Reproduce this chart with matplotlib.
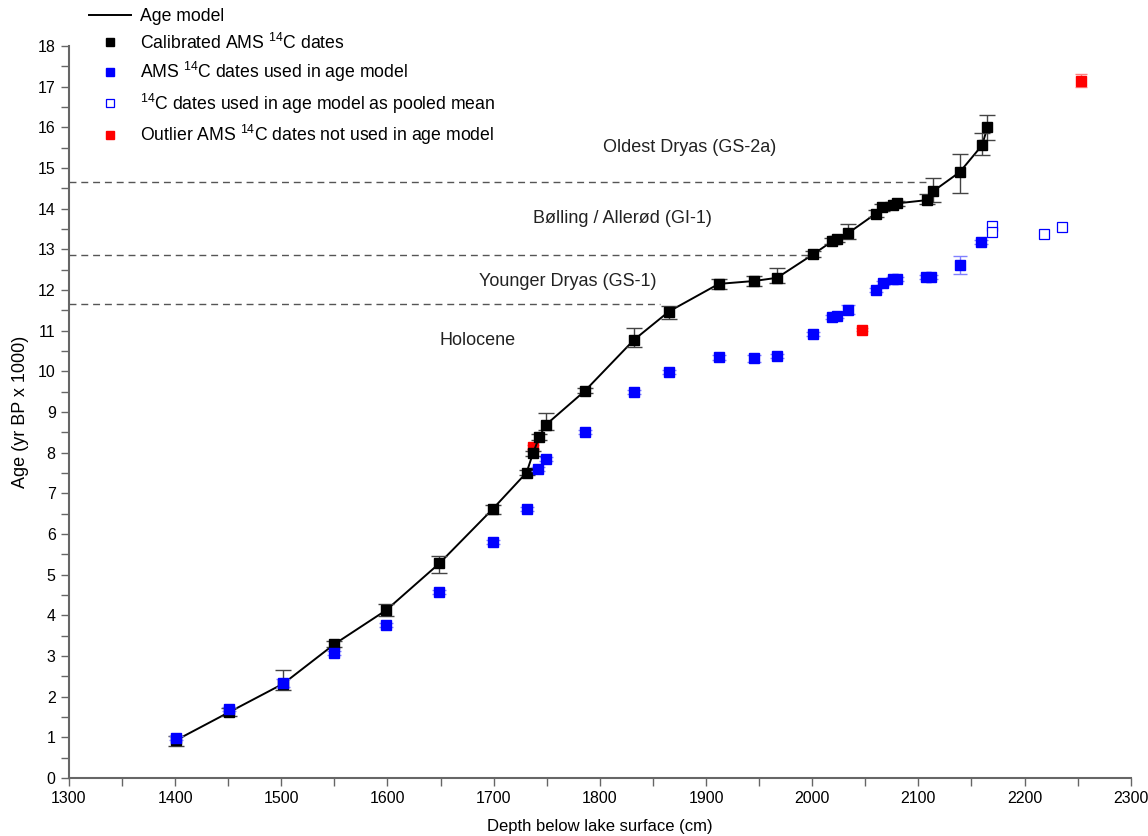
import numpy as np
import matplotlib
matplotlib.use('Agg')
import matplotlib.pyplot as plt
from matplotlib.lines import Line2D

plt.rcParams['font.family'] = ['Liberation Sans', 'DejaVu Sans']
plt.rcParams['mathtext.default'] = 'regular'

# calibrated AMS 14C dates (age model nodes), depth in cm, age in kyr BP
cal_depth = [1401, 1451, 1502, 1550, 1599, 1649, 1699, 1731, 1737, 1743, 1749, 1786,
             1832, 1865, 1912, 1945, 1967, 2001, 2019, 2023, 2034, 2060, 2066, 2076,
             2080, 2108, 2114, 2139, 2160, 2165]
cal_age = [0.93, 1.62, 2.32, 3.29, 4.13, 5.28, 6.61, 7.51, 7.98, 8.39, 8.68, 9.52,
           10.77, 11.47, 12.15, 12.22, 12.30, 12.88, 13.20, 13.25, 13.40, 13.88, 14.03, 14.10,
           14.13, 14.21, 14.43, 14.90, 15.56, 16.00]
cal_err_lo = [0.15, 0.10, 0.16, 0.08, 0.15, 0.25, 0.13, 0.07, 0.07, 0.07, 0.12, 0.06,
              0.18, 0.18, 0.12, 0.12, 0.14, 0.07, 0.08, 0.08, 0.15, 0.08, 0.08, 0.06,
              0.06, 0.10, 0.27, 0.51, 0.23, 0.30]
cal_err_hi = [0.10, 0.10, 0.34, 0.08, 0.15, 0.18, 0.10, 0.07, 0.07, 0.07, 0.29, 0.06,
              0.29, 0.14, 0.12, 0.12, 0.23, 0.07, 0.08, 0.08, 0.22, 0.08, 0.08, 0.06,
              0.06, 0.14, 0.32, 0.45, 0.30, 0.30]

# uncalibrated AMS 14C dates used in age model
ams_depth = [1401, 1451, 1502, 1550, 1599, 1649, 1699, 1731, 1742, 1749, 1786, 1832,
             1865, 1912, 1945, 1967, 2001, 2019, 2023, 2034, 2060, 2067, 2076, 2080,
             2107, 2112, 2139, 2159]
ams_age = [0.98, 1.70, 2.34, 3.07, 3.76, 4.57, 5.80, 6.61, 7.59, 7.84, 8.51, 9.48,
           9.98, 10.34, 10.32, 10.37, 10.92, 11.33, 11.37, 11.52, 12.01, 12.18, 12.28, 12.26,
           12.33, 12.31, 12.61, 13.18]
ams_err = [0.05, 0.05, 0.10, 0.05, 0.05, 0.05, 0.05, 0.05, 0.05, 0.05, 0.05, 0.05,
           0.05, 0.05, 0.09, 0.05, 0.05, 0.05, 0.05, 0.11, 0.05, 0.05, 0.05, 0.05,
           0.05, 0.05, 0.22, 0.05]

# dates used as pooled mean
pool_depth = [2169, 2169, 2218, 2235]
pool_age = [13.57, 13.42, 13.37, 13.55]
pool_err = [0.06, 0.06, 0.09, 0.08]

# outliers
out_depth = [1737, 2047, 2253]
out_age = [8.15, 11.02, 17.15]
out_err = [0.05, 0.04, 0.16]

# chronozone boundaries (kyr BP) and where the dashed line stops
bound_age = [14.65, 12.85, 11.65]
bound_end = [2108, 2000, 1857]
zone_names = ['Oldest Dryas (GS-2a)', 'Bølling / Allerød (GI-1)', 'Younger Dryas (GS-1)', 'Holocene']
zone_x = [1885, 1821, 1770, 1685]
zone_y = [15.5, 13.77, 12.22, 10.75]

fig = plt.figure(figsize=(11.48, 8.36), dpi=100)
ax = fig.add_axes([0.060, 0.0694, 0.925, 0.8756])

for a, e in zip(bound_age, bound_end):
    ax.plot([1300, e], [a, a], color='#555555', lw=1, dashes=(5, 3.5), zorder=1)

for name, x, y in zip(zone_names, zone_x, zone_y):
    ax.text(x, y, name, ha='center', va='center', fontsize=13, color='#222222')

# outliers
ax.errorbar(out_depth, out_age, yerr=out_err, fmt='s', ms=6.5, color='red',
            ecolor='#ff8080', elinewidth=1, capsize=4.5, capthick=1, zorder=3)

# age model
ax.plot(cal_depth, cal_age, color='black', lw=1.4, zorder=4)
ax.errorbar(cal_depth, cal_age, yerr=[cal_err_lo, cal_err_hi], fmt='none',
            ecolor='#444444', elinewidth=1, capsize=5.5, capthick=1, zorder=4)
ax.plot(cal_depth, cal_age, 's', ms=7, color='black', zorder=5)

# AMS dates used in model
ax.errorbar(ams_depth, ams_age, yerr=ams_err, fmt='none', ecolor='#8080ff',
            elinewidth=1, capsize=5, capthick=1, zorder=6)
ax.plot(ams_depth, ams_age, 's', ms=7, color='blue', zorder=7)

ax.errorbar(pool_depth, pool_age, yerr=pool_err, fmt='s', ms=6.5, mfc='white',
            mec='blue', mew=0.9, ecolor='#8080ff', elinewidth=1, capsize=3,
            capthick=1, zorder=6)

ax.set_xlim(1300, 2300)
ax.set_ylim(0, 18)
ax.set_xticks(np.arange(1300, 2301, 100))
ax.set_xticks(np.arange(1350, 2300, 100), minor=True)
ax.set_yticks(np.arange(0, 19, 1))
ax.set_yticks(np.arange(0.5, 18, 1), minor=True)
for s in ['top', 'right']:
    ax.spines[s].set_visible(False)
for s in ['left', 'bottom']:
    ax.spines[s].set_color('#666666')
    ax.spines[s].set_linewidth(1.5)
ax.tick_params(which='both', direction='out', length=6, width=1, color='#666666',
               labelsize=11.5)
ax.set_xlabel('Depth below lake surface (cm)', fontsize=12, labelpad=9)
ax.set_ylabel('Age (yr BP x 1000)', fontsize=13, labelpad=6)

handles = [Line2D([], [], color='black', lw=1.4),
           Line2D([], [], ls='none', marker='s', ms=6, color='black'),
           Line2D([], [], ls='none', marker='s', ms=6, color='blue'),
           Line2D([], [], ls='none', marker='s', ms=6, mfc='white', mec='blue', mew=0.9),
           Line2D([], [], ls='none', marker='s', ms=6, color='red')]
labels = ['Age model', 'Calibrated AMS $^{14}$C dates', 'AMS $^{14}$C dates used in age model',
          '$^{14}$C dates used in age model as pooled mean',
          'Outlier AMS $^{14}$C dates not used in age model']
fig.legend(handles, labels, loc='upper left', bbox_to_anchor=(0.068, 1.003),
           frameon=False, fontsize=12.7, handlelength=2.4, handletextpad=0.5,
           labelspacing=0.42, borderaxespad=0.2)

plt.savefig('out.png', dpi=100)
